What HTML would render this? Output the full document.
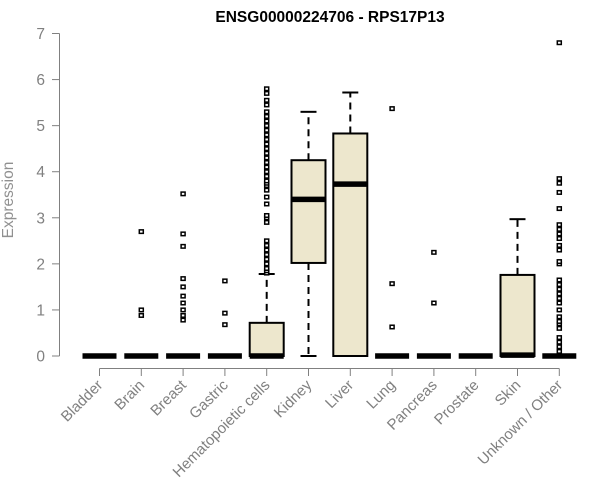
<!DOCTYPE html>
<html><head><meta charset="utf-8"><style>
html,body{margin:0;padding:0;background:#fff}
svg{display:block;font-family:"Liberation Sans",Arial,sans-serif}
</style></head><body>
<svg id="chart" width="600" height="500" viewBox="0 0 600 500">
<text x="330" y="22" text-anchor="middle" font-weight="bold" font-size="15.5" fill="#000">ENSG00000224706 - RPS17P13</text>
<text transform="translate(13,200) rotate(-90)" text-anchor="middle" font-size="15.5" fill="#909090">Expression</text>
<g id="axes"></g><g id="plot"></g>
</svg>
<script>
const categories=["Bladder","Brain","Breast","Gastric","Hematopoietic cells","Kidney","Liver","Lung","Pancreas","Prostate","Skin","Unknown / Other"];
const q1=[0,0,0,0,0,2.02,0,0,0,0,0,0];
const medians=[0,0,0,0,0,3.4,3.73,0,0,0,0.02,0];
const q3=[0,0,0,0,0.72,4.25,4.83,0,0,0,1.76,0];
const whiskLo=[0,0,0,0,0,0,0,0,0,0,0,0];
const whiskHi=[0,0,0,0,1.78,5.3,5.72,0,0,0,2.97,0];
const outliers=[[],[0.88,1.0,2.7],[0.78,0.88,1.0,1.15,1.3,1.5,1.68,2.38,2.65,3.52],[0.68,0.93,1.63],
[1.8,1.85,1.9,2.0,2.1,2.2,2.3,2.4,2.5,2.9,3.0,3.05,3.3,3.45,3.6,3.7,3.75,3.8,3.9,4.0,4.1,4.2,4.3,4.4,4.5,4.6,4.7,4.8,4.9,5.0,5.1,5.2,5.3,5.45,5.55,5.7,5.8],
[],[],[0.63,1.57,5.37],[1.15,2.25],[],[],
[0.1,0.2,0.3,0.4,0.6,0.7,0.75,0.85,1.0,1.15,1.25,1.35,1.45,1.55,1.65,2.0,2.05,2.3,2.4,2.55,2.65,2.75,2.85,3.2,3.55,3.75,3.85,6.8]];
const yTicks=[0,1,2,3,4,5,6,7];
const NS="http://www.w3.org/2000/svg";
const y=v=>356-v*46.07;
const x=i=>99.5+41.8*i;
const ax=document.getElementById('axes'),pl=document.getElementById('plot');
function mk(p,tag,attrs){const e=document.createElementNS(NS,tag);for(const k in attrs)e.setAttribute(k,attrs[k]);p.appendChild(e);return e;}
let e=mk(ax,'line',{x1:59.5,x2:59.5,y1:y(7),y2:y(0),stroke:'#808080'});


yTicks.forEach(t=>{
 let l=mk(ax,'line',{x1:52,x2:59.5,y1:y(t),y2:y(t),stroke:'#808080'});
 
 
 let tx=mk(ax,'text',{x:45,y:y(t)+5.5,'text-anchor':'end','font-size':15.5,fill:'#808080'});tx.textContent=t;
 
 
});
e=mk(ax,'line',{x1:x(0),x2:x(categories.length-1),y1:368.5,y2:368.5,stroke:'#808080'});


categories.forEach((c,i)=>{
 let l=mk(ax,'line',{x1:x(i),x2:x(i),y1:368.5,y2:376,stroke:'#808080'});
 
 
 let tx=mk(ax,'text',{transform:`translate(${x(i)+4},386) rotate(-45)`,'text-anchor':'end','font-size':15,fill:'#808080'});tx.textContent=c;
 
 
 const g=mk(pl,'g',{});
 
 
 const cx=x(i),hw=17;
 if(whiskHi[i]>q3[i]){mk(g,'line',{x1:cx,x2:cx,y1:y(q3[i]),y2:y(whiskHi[i]),stroke:'#000','stroke-width':2,'stroke-dasharray':'7,5'});mk(g,'line',{x1:cx-8,x2:cx+8,y1:y(whiskHi[i]),y2:y(whiskHi[i]),stroke:'#000','stroke-width':2});}
 if(whiskLo[i]<q1[i]){mk(g,'line',{x1:cx,x2:cx,y1:y(q1[i]),y2:y(whiskLo[i]),stroke:'#000','stroke-width':2,'stroke-dasharray':'7,5'});mk(g,'line',{x1:cx-8,x2:cx+8,y1:y(whiskLo[i]),y2:y(whiskLo[i]),stroke:'#000','stroke-width':2});}
 if(q3[i]>q1[i])mk(g,'rect',{x:cx-hw,y:y(q3[i]),width:hw*2,height:y(q1[i])-y(q3[i]),fill:'#ede7cd',stroke:'#000','stroke-width':2});
 mk(g,'line',{x1:cx-hw,x2:cx+hw,y1:y(medians[i]),y2:y(medians[i]),stroke:'#000','stroke-width':5.5});
 outliers[i].forEach(v=>{let r=mk(g,'rect',{x:cx-2,y:y(v)-1.75,width:4,height:3.5,fill:'#fff',stroke:'#000','stroke-width':1.5});
  
  });
});
</script>
</body></html>
